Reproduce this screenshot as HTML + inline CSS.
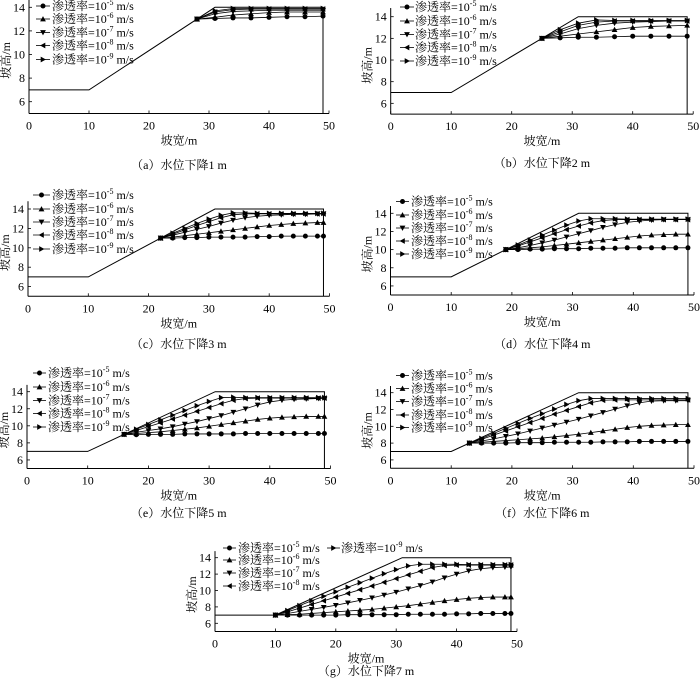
<!DOCTYPE html>
<html><head><meta charset="utf-8">
<style>
html,body{margin:0;padding:0;background:#fff;}
svg{display:block;}
text{font-family:"Liberation Serif","Noto Serif CJK SC","Noto Sans CJK SC",serif;fill:#000;}
</style></head>
<body>
<svg id="fig" width="700" height="681" viewBox="0 0 700 681" xmlns="http://www.w3.org/2000/svg"></svg>
<script>
// ---- data (x in m, water table height in m) ----
const xA=[28,31,34,37,40,43,46,49];
const aK5=[13.0,13.05,13.1,13.1,13.15,13.2,13.2,13.25];
const aK6=[13.0,13.15,13.35,13.45,13.55,13.6,13.6,13.6];
const aK7=[13.0,13.45,13.65,13.7,13.75,13.75,13.75,13.75];
const aK8=[13.0,13.6,13.8,13.85,13.85,13.85,13.85,13.85];
const aK9=[13.0,13.7,13.9,13.9,13.9,13.9,13.9,13.9];

const xB=[25,28,31,34,37,40,43,46,49];
const bK5=[12.0,12.05,12.1,12.1,12.15,12.2,12.2,12.2,12.2];
const bK6=[12.0,12.2,12.4,12.6,12.8,13.0,13.1,13.15,13.2];
const bK7=[12.0,12.4,12.9,13.2,13.4,13.5,13.55,13.6,13.6];
const bK8=[12.0,12.6,13.2,13.5,13.6,13.6,13.6,13.6,13.6];
const bK9=[12.0,12.8,13.4,13.7,13.65,13.65,13.65,13.65,13.65];

const xC=[22,24,26,28,30,32,34,36,38,40,42,44,46,48,49];
const cK5=[11.0,11.0,11.05,11.05,11.1,11.1,11.1,11.1,11.15,11.15,11.2,11.2,11.2,11.2,11.2];
const cK6=[11.0,11.1,11.25,11.4,11.55,11.7,11.85,12.0,12.15,12.3,12.4,12.5,12.55,12.6,12.6];
const cK7=[11.0,11.3,11.6,11.9,12.2,12.55,12.85,13.1,13.25,13.35,13.4,13.45,13.45,13.5,13.5];
const cK8=[11.0,11.4,11.85,12.3,12.7,13.1,13.4,13.5,13.5,13.5,13.5,13.5,13.5,13.5,13.5];
const cK9=[11.0,11.5,12.0,12.5,12.95,13.35,13.6,13.6,13.55,13.55,13.55,13.55,13.55,13.55,13.55];

const xD=[19,21,23,25,27,29,31,33,35,37,39,41,43,45,47,49];
const dK5=[10.0,10.0,10.05,10.05,10.1,10.1,10.1,10.15,10.15,10.15,10.2,10.2,10.2,10.2,10.2,10.2];
const dK6=[10.0,10.1,10.2,10.3,10.45,10.6,10.75,10.9,11.05,11.2,11.35,11.5,11.6,11.65,11.7,11.7];
const dK7=[10.0,10.2,10.45,10.75,11.05,11.4,11.75,12.1,12.45,12.75,13.0,13.15,13.25,13.3,13.3,13.3];
const dK8=[10.0,10.4,10.85,11.3,11.75,12.2,12.6,12.95,13.2,13.3,13.3,13.3,13.3,13.3,13.3,13.3];
const dK9=[10.0,10.5,11.05,11.6,12.15,12.7,13.15,13.4,13.4,13.4,13.35,13.35,13.35,13.35,13.35,13.35];

const xE=[16,18,20,22,24,26,28,30,32,34,36,38,40,42,44,46,48,49];
const eK5=[9.0,8.95,9.0,9.0,9.0,9.05,9.05,9.05,9.05,9.05,9.1,9.1,9.1,9.1,9.1,9.1,9.1,9.1];
const eK6=[9.0,9.1,9.2,9.3,9.45,9.6,9.75,9.95,10.15,10.35,10.55,10.75,10.9,11.0,11.05,11.1,11.1,11.1];
const eK7=[9.0,9.25,9.45,9.65,9.9,10.2,10.5,10.85,11.2,11.6,12.0,12.45,12.8,13.0,13.1,13.15,13.2,13.2];
const eK8=[9.0,9.45,9.9,10.35,10.8,11.25,11.7,12.15,12.6,13.0,13.2,13.25,13.25,13.25,13.25,13.25,13.25,13.25];
const eK9=[9.0,9.6,10.15,10.7,11.25,11.8,12.35,12.85,13.3,13.35,13.3,13.3,13.3,13.3,13.3,13.3,13.3,13.3];

const xF=[13,15,17,19,21,23,25,27,29,31,33,35,37,39,41,43,45,47,49];
const fK5=[8.0,8.0,8.0,8.0,8.05,8.05,8.05,8.1,8.1,8.1,8.1,8.15,8.15,8.15,8.2,8.2,8.2,8.2,8.2];
const fK6=[8.0,8.1,8.2,8.3,8.4,8.5,8.6,8.75,8.9,9.05,9.25,9.45,9.65,9.85,10.0,10.1,10.15,10.2,10.2];
const fK7=[8.0,8.25,8.5,8.8,9.1,9.45,9.8,10.15,10.5,10.85,11.25,11.65,12.05,12.45,12.8,13.0,13.05,13.05,13.05];
const fK8=[8.0,8.45,8.95,9.45,9.95,10.45,10.95,11.45,11.9,12.35,12.8,13.1,13.15,13.15,13.15,13.15,13.15,13.15,13.15];
const fK9=[8.0,8.55,9.15,9.75,10.35,10.95,11.5,12.05,12.6,13.05,13.3,13.3,13.3,13.3,13.3,13.3,13.3,13.3,13.3];

const xG=[10,12,14,16,18,20,22,24,26,28,30,32,34,36,38,40,42,44,46,48,49];
const gK5=[7.0,7.0,7.0,7.0,7.0,7.0,7.05,7.05,7.05,7.05,7.05,7.1,7.1,7.1,7.1,7.15,7.15,7.2,7.2,7.2,7.2];
const gK6=[7.0,7.05,7.1,7.2,7.3,7.4,7.5,7.6,7.7,7.85,8.0,8.15,8.35,8.55,8.75,8.9,9.05,9.15,9.2,9.2,9.2];
const gK7=[7.0,7.2,7.45,7.7,7.95,8.2,8.5,8.8,9.1,9.45,9.8,10.2,10.6,11.05,11.55,12.0,12.4,12.65,12.8,12.85,12.85];
const gK8=[7.0,7.4,7.85,8.3,8.75,9.2,9.65,10.1,10.55,11.0,11.45,11.9,12.35,12.8,13.05,13.1,13.1,13.1,13.1,13.1,13.1];
const gK9=[7.0,7.55,8.15,8.75,9.3,9.85,10.4,10.95,11.5,12.05,12.55,13.0,13.2,13.2,13.2,13.2,13.15,13.15,13.15,13.15,13.15];

// slope geometry (x, height)
const slopeX=[0,10,31,49,49];
const slopeY=[7,7,14,14,5];
const xTicks=[0,10,20,30,40,50];
const yTicks=[6,8,10,12,14];
const expLabels=["-5","-6","-7","-8","-9"];
const captions=["（a）水位下降1 m","（b）水位下降2 m","（c）水位下降3 m","（d）水位下降4 m","（e）水位下降5 m","（f）水位下降6 m","（g）水位下降7 m"];

const NS="http://www.w3.org/2000/svg";
const svg=document.getElementById('fig');
function mk(tag,attrs,parent){const e=document.createElementNS(NS,tag);for(const k in attrs)e.setAttribute(k,attrs[k]);(parent||svg).appendChild(e);return e;}

function marker(g,type,cx,cy){
  let e;
  const s=2.9;
  if(type===0){e=mk('circle',{cx:cx,cy:cy,r:2.5,fill:'#000'},g);}
  else{
    let p;
    if(type===1)p=[[cx,cy-s],[cx-s,cy+s*0.8],[cx+s,cy+s*0.8]];
    else if(type===2)p=[[cx,cy+s],[cx-s,cy-s*0.8],[cx+s,cy-s*0.8]];
    else if(type===3)p=[[cx-s,cy],[cx+s*0.8,cy-s],[cx+s*0.8,cy+s]];
    else p=[[cx+s,cy],[cx-s*0.8,cy-s],[cx-s*0.8,cy+s]];
    e=mk('polygon',{points:p.map(q=>q.join(',')).join(' '),fill:'#000'},g);
  }
  
  
  return e;
}

const panels=[
 {id:'a',ox:29,ux:6.0,y14:7.3,uy:11.8,lx1:36,lx2:50,tx:52,rows:[6,19,32.5,45.5,59.5],cy:165,xs:xA,ser:[aK5,aK6,aK7,aK8,aK9]},
 {id:'b',ox:390.7,ux:6.05,y14:16.7,uy:10.83,lx1:400,lx2:414,tx:415,rows:[7,21,34.5,47.5,61],cy:163,xs:xB,ser:[bK5,bK6,bK7,bK8,bK9]},
 {id:'c',ox:28,ux:6.03,y14:209,uy:9.7,lx1:33,lx2:50,tx:52,rows:[195,209,222,235,249],cy:344,xs:xC,ser:[cK5,cK6,cK7,cK8,cK9]},
 {id:'d',ox:390.5,ux:6.07,y14:213.3,uy:9.08,lx1:396,lx2:409,tx:411,rows:[201.5,215,228,241,254],cy:344,xs:xD,ser:[dK5,dK6,dK7,dK8,dK9]},
 {id:'e',ox:27,ux:6.07,y14:391.7,uy:8.53,lx1:33,lx2:46,tx:48,rows:[373,387,400.5,413.5,427],cy:513,xs:xE,ser:[eK5,eK6,eK7,eK8,eK9]},
 {id:'f',ox:390.5,ux:6.07,y14:392.7,uy:8.4,lx1:396,lx2:409,tx:411,rows:[375.5,388.5,401.5,415,427.5],cy:513,xs:xF,ser:[fK5,fK6,fK7,fK8,fK9]},
 {id:'g',ox:215,ux:6.04,y14:557.7,uy:8.2,lx1:223,lx2:236,tx:238,rows:[548,560,573,586,548],cy:671,xs:xG,ser:[gK5,gK6,gK7,gK8,gK9],k9x:[327,340,341]}
];

panels.forEach((P,pi)=>{
  const X=v=>P.ox+v*P.ux;
  const Y=v=>P.y14+(14-v)*P.uy;
  const g=mk('g',{});
  
  
  const bot=Y(5);
  // axes
  const ya=mk('line',{x1:X(0),y1:Y(14.8),x2:X(0),y2:bot,stroke:'#000','stroke-width':1},g);
  
  
  const xa=mk('line',{x1:X(0),y1:bot,x2:X(50),y2:bot,stroke:'#000','stroke-width':1},g);
  
  
  xTicks.forEach(t=>{
    mk('line',{x1:X(t),y1:bot,x2:X(t),y2:bot-3,stroke:'#000','stroke-width':0.8},g);
    const tl=mk('text',{x:X(t),y:bot+16,'font-size':12,'text-anchor':'middle'},g);
    tl.textContent=t;
    
    
  });
  yTicks.forEach(t=>{
    mk('line',{x1:X(0),y1:Y(t),x2:X(0)+3,y2:Y(t),stroke:'#000','stroke-width':0.8},g);
    const tl=mk('text',{x:X(0)-4,y:Y(t)+4,'font-size':12,'text-anchor':'end'},g);
    tl.textContent=t;
    
    
  });
  const xt=mk('text',{x:X(25),y:bot+31,'font-size':12,'text-anchor':'middle'},g);
  xt.textContent='坡宽/m';
  
  
  const ym=(Y(14)+bot)/2;
  const yt=mk('text',{x:0,y:0,'font-size':12,'text-anchor':'middle',transform:`translate(${X(0)-19},${ym}) rotate(-90)`},g);
  yt.textContent='坡高/m';
  
  
  // slope outline
  const sp=mk('polyline',{points:slopeX.map((v,i)=>X(v)+','+Y(slopeY[i])).join(' '),fill:'none',stroke:'#000','stroke-width':1},g);
  
  
  // series
  P.ser.forEach((arr,si)=>{
    const sg=mk('g',{},g);
    
    
    mk('polyline',{points:P.xs.map((v,i)=>X(v)+','+Y(arr[i])).join(' '),fill:'none',stroke:'#000','stroke-width':0.8},sg);
    P.xs.forEach((v,i)=>marker(sg,si,X(v),Y(arr[i])));
  });
  // legend
  for(let si=0;si<5;si++){
    const lg=mk('g',{},g);
    
    
    let lx1=P.lx1,lx2=P.lx2,tx=P.tx;
    if(P.k9x&&si===4){lx1=P.k9x[0];lx2=P.k9x[1];tx=P.k9x[2];}
    const ry=P.rows[si];
    mk('line',{x1:lx1,y1:ry,x2:lx2,y2:ry,stroke:'#000','stroke-width':0.8},lg);
    marker(lg,si,(lx1+lx2)/2,ry);
    const t=mk('text',{x:tx,y:ry+4,'font-size':12},lg);
    const t1=mk('tspan',{},t);t1.textContent='渗透率=10';
    const t2=mk('tspan',{dy:-5,'font-size':8},t);t2.textContent=expLabels[si];
    const t3=mk('tspan',{dy:5},t);t3.textContent=' m/s';
  }
  const cap=mk('text',{x:X(25),y:P.cy+4,'font-size':12,'text-anchor':'middle'},g);
  cap.textContent=captions[pi];
  
  
});
</script>
</body></html>
